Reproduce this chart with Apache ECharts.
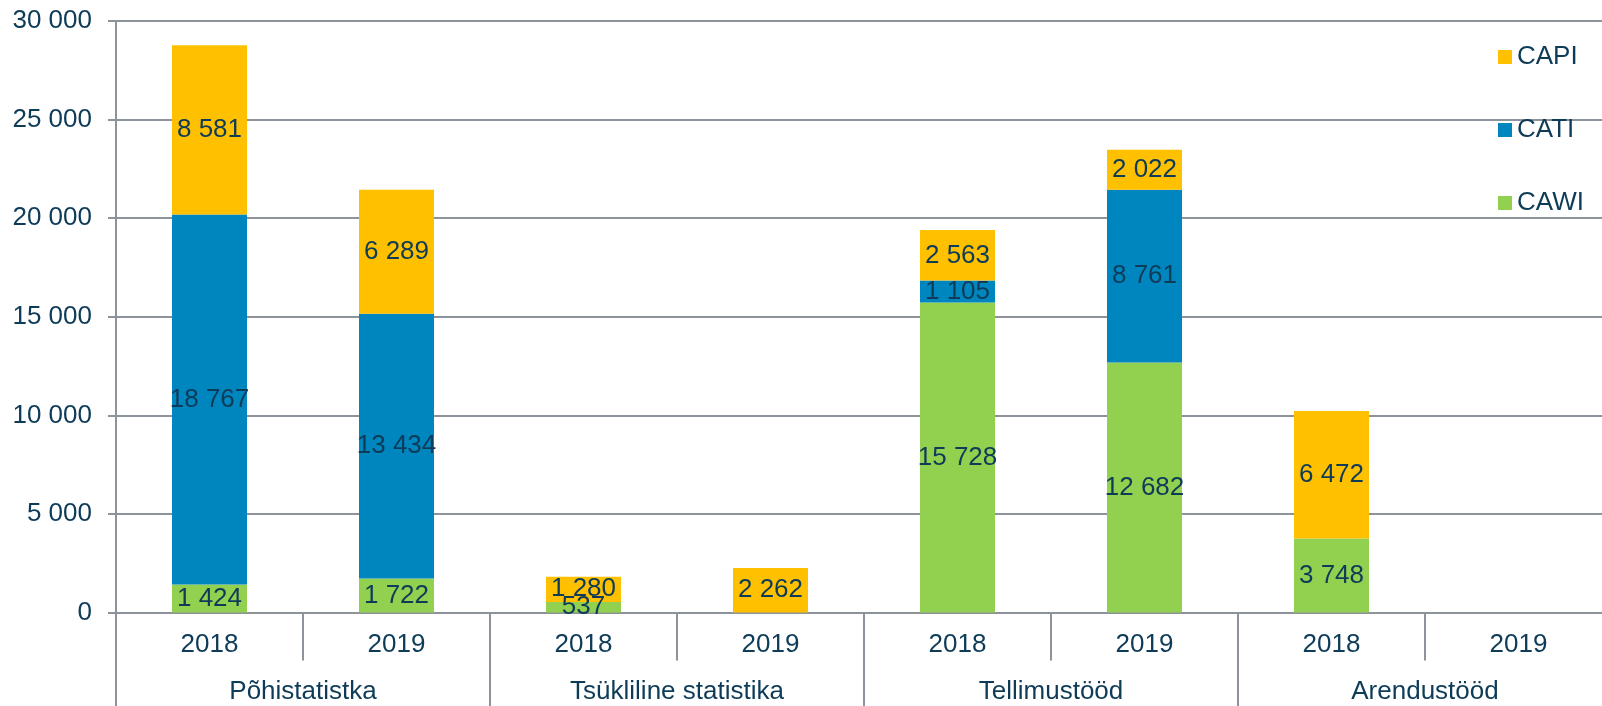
<!DOCTYPE html>
<html>
<head>
<meta charset="utf-8">
<title>CAPI / CATI / CAWI</title>
<script src="https://cdn.jsdelivr.net/npm/echarts@6/dist/echarts.min.js"></script>
<style>
  html, body { margin: 0; padding: 0; background: #fff; }
  #chart { width: 1602px; height: 706px; }
</style>
</head>
<body>
<div id="chart"></div>
<script>
// andmed
const years = ['2018', '2019', '2018', '2019', '2018', '2019', '2018', '2019']
const groups = ['Põhistatistka', 'Tsükliline statistika', 'Tellimustööd', 'Arendustööd']
const cawi = [1424, 1722, 537, 0, 15728, 12682, 3748, 0]
const cati = [18767, 13434, 0, 0, 1105, 8761, 0, 0]
const capi = [8581, 6289, 1280, 2262, 2563, 2022, 6472, 0]
const yTicks = [0, 5000, 10000, 15000, 20000, 25000, 30000]

const textColor = '#0d3b58'
const lineColor = '#8d939a'
const font = 'Liberation Sans, Arial, sans-serif'
const fontSize = 26

// tuhandete eraldaja tühikuga
const fmt = (v) => String(v).replace(/\B(?=(\d{3})+(?!\d))/g, ' ')

const chart = echarts.init(document.getElementById('chart'))

const makeSeries = (name, data, color) => ({
  name: name,
  type: 'bar',
  stack: 'total',
  xAxisIndex: 0,
  barWidth: 75,
  data: data,
  itemStyle: { color: color },
  label: {
    show: true,
    position: 'inside',
    color: textColor,
    fontFamily: font,
    fontSize: fontSize,
    formatter: (p) => (p.value ? fmt(p.value) : '')
  }
})

chart.setOption({
  animation: false,
  textStyle: { fontFamily: font },
  grid: {
    left: 116,
    top: 21,
    width: 1496,
    height: 591.5,
    containLabel: false,
    outerBoundsMode: 'none'
  },
  legend: {
    orient: 'vertical',
    left: 1493,
    top: 37,
    icon: 'rect',
    itemWidth: 14,
    itemHeight: 14,
    itemGap: 43,
    data: ['CAPI', 'CATI', 'CAWI'],
    textStyle: { color: textColor, fontSize: fontSize, lineHeight: 30, fontFamily: font }
  },
  xAxis: [
    {
      type: 'category',
      position: 'bottom',
      data: years,
      axisLine: { show: true, lineStyle: { color: lineColor, width: 2 } },
      axisTick: { show: true, interval: 0, length: 48, lineStyle: { color: lineColor, width: 2 } },
      axisLabel: { interval: 0, margin: 19, color: textColor, fontSize: fontSize, fontFamily: font }
    },
    {
      type: 'category',
      position: 'bottom',
      data: groups,
      axisLine: { show: false },
      axisTick: { show: true, interval: 0, length: 100, lineStyle: { color: lineColor, width: 2 } },
      axisLabel: { interval: 0, margin: 66, color: textColor, fontSize: fontSize, fontFamily: font }
    }
  ],
  yAxis: {
    type: 'value',
    min: yTicks[0],
    max: yTicks[yTicks.length - 1],
    interval: yTicks[1] - yTicks[0],
    axisLine: { show: true, lineStyle: { color: lineColor, width: 2 } },
    axisTick: { show: true, length: 8, lineStyle: { color: lineColor, width: 2 } },
    axisLabel: { margin: 24, color: textColor, fontSize: fontSize, fontFamily: font, formatter: fmt },
    splitLine: { show: true, lineStyle: { color: lineColor, width: 2 } }
  },
  series: [
    makeSeries('CAWI', cawi, '#92d050'),
    makeSeries('CATI', cati, '#0086bf'),
    makeSeries('CAPI', capi, '#ffc000')
  ]
})
</script>
</body>
</html>
